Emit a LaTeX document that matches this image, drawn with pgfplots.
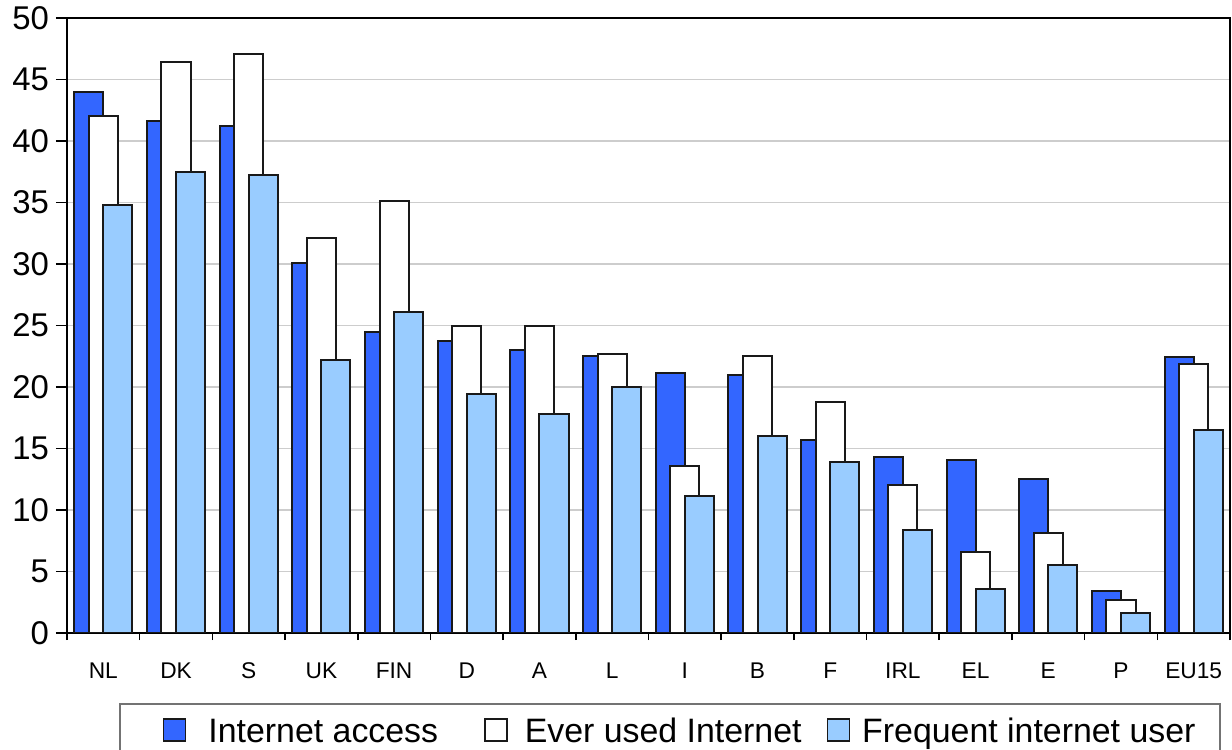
\documentclass[border=0pt]{standalone}
\usepackage{fontspec}
\setmainfont{Liberation Sans}
\usepackage{pgfplots}
\pgfplotsset{compat=1.18}
\definecolor{accblue}{RGB}{51,102,255}
\definecolor{freqblue}{RGB}{153,204,255}
\definecolor{gridgray}{RGB}{205,205,205}
\pgfplotsset{sqlegend/.style={legend image code/.code={\draw[##1,line width=0.7bp] (0bp,-5.5bp) rectangle (11bp,5.5bp);}}}
\begin{document}
\begin{tikzpicture}
\begin{axis}[
  at={(0,0)}, anchor=south west,
  scale only axis, width=581.5bp, height=307.5bp,
  xmin=-0.5, xmax=15.5, ymin=0, ymax=50,
  ybar, bar width=0.4,
  xtick={0,...,15},
  xticklabels={NL,DK,S,UK,FIN,D,A,L,I,B,F,IRL,EL,E,P,EU15},
  minor xtick={-0.5,0.5,...,15.5},
  major x tick style={draw=none},
  ytick={0,5,...,50},
  ymajorgrids, grid style={draw=gridgray, line width=0.8bp},
  tick align=outside, tick pos=left,
  major tick length=5.5bp, minor tick length=3.5bp,
  tick style={black, line width=0.8bp},
  axis line style={line width=1bp},
  /pgf/number format/assume math mode=true,
  yticklabel style={font=\fontsize{16.5}{18}\selectfont},
  xticklabel style={font=\fontsize{11.4}{13}\selectfont, anchor=base, yshift=-17bp},
  legend columns=3,
  legend style={at={(0.045,-0.1143)}, anchor=north west, draw=black!55, line width=1bp, fill=white,
    inner xsep=21.2bp, inner ysep=6.77bp,
    nodes={inner sep=0pt, text height=12.17bp, text depth=0bp, font=\fontsize{17}{20}\selectfont},
    cells={anchor=west}},
]
\addplot[sqlegend, fill=accblue, draw=black!90, line width=1bp, bar shift=-0.2] coordinates {
 (0,44.0) (1,41.6) (2,41.2) (3,30.1) (4,24.5) (5,23.7) (6,23.0) (7,22.5)
 (8,21.1) (9,21.0) (10,15.7) (11,14.3) (12,14.1) (13,12.5) (14,3.4) (15,22.4)};
\addlegendentry{\makebox[149.15bp][l]{\hspace{11.15bp}Internet access}}
\addplot[sqlegend, fill=white, draw=black!90, line width=1bp, bar shift=0] coordinates {
 (0,42.0) (1,46.4) (2,47.1) (3,32.1) (4,35.1) (5,25.0) (6,25.0) (7,22.7)
 (8,13.6) (9,22.5) (10,18.8) (11,12.0) (12,6.6) (13,8.1) (14,2.7) (15,21.9)};
\addlegendentry{\makebox[159.5bp][l]{\hspace{8.5bp}Ever used Internet}}
\addplot[sqlegend, fill=freqblue, draw=black!90, line width=1bp, bar shift=0.2] coordinates {
 (0,34.8) (1,37.5) (2,37.2) (3,22.2) (4,26.1) (5,19.4) (6,17.8) (7,20.0)
 (8,11.1) (9,16.0) (10,13.9) (11,8.4) (12,3.6) (13,5.5) (14,1.6) (15,16.5)};
\addlegendentry{\makebox[163.45bp][l]{\hspace{6bp}Frequent internet user}}
\end{axis}
\pgfresetboundingbox
\path[use as bounding box] (-33.5bp,-58.5bp) rectangle (582.5bp,316.5bp);
\end{tikzpicture}
\end{document}
